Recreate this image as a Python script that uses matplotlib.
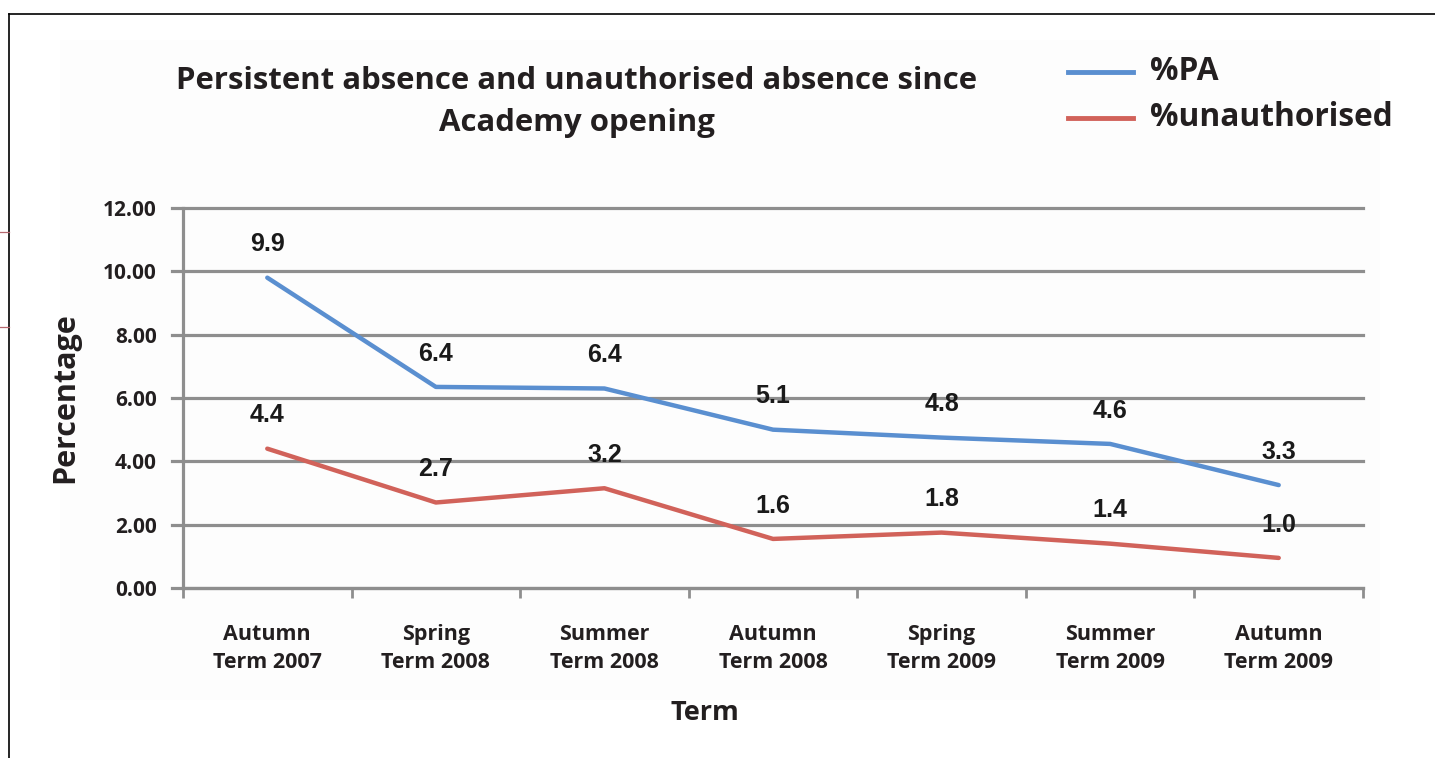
import numpy as np
import matplotlib
matplotlib.use("Agg")
import matplotlib.pyplot as plt
from matplotlib.lines import Line2D

categories = ["Autumn\nTerm 2007", "Spring\nTerm 2008", "Summer\nTerm 2008", "Autumn\nTerm 2008",
              "Spring\nTerm 2009", "Summer\nTerm 2009", "Autumn\nTerm 2009"]
pa = [9.9, 6.4, 6.4, 5.1, 4.8, 4.6, 3.3]
pa_plot = [9.8, 6.35, 6.3, 5.0, 4.75, 4.55, 3.25]
unauth = [4.4, 2.7, 3.2, 1.6, 1.8, 1.4, 1.0]
unauth_plot = [4.4, 2.7, 3.15, 1.55, 1.75, 1.4, 0.95]
yticks = [0, 2, 4, 6, 8, 10, 12]
ytick_labels = ["0.00", "2.00", "4.00", "6.00", "8.00", "10.00", "12.00"]

BLUE = "#5a8fd0"
RED = "#d1625a"
GRID = "#8e8e8e"
TXT = "#231f20"
FONT = "Open Sans"

fig = plt.figure(figsize=(14.35, 7.58), dpi=100)
fig.patch.set_facecolor("white")

# faint background panel
fig.patches.append(plt.Rectangle((60/1435, 1-700/758), 1320/1435, 660/758,
                                 transform=fig.transFigure, facecolor="#fdfdfd",
                                 edgecolor="none", zorder=-5))
# border lines
fig.add_artist(Line2D([9/1435, 9/1435], [0, 1-14/758], transform=fig.transFigure, color="black", lw=1.2))
fig.add_artist(Line2D([9/1435, 1], [1-14/758, 1-14/758], transform=fig.transFigure, color="black", lw=1.2))
for yy in (232, 327):
    fig.add_artist(Line2D([0, 9/1435], [1-yy/758, 1-yy/758], transform=fig.transFigure, color="#b5676e", lw=0.9))

ax = fig.add_axes([183/1435, 1-588/758, 1180/1435, 380/758])
ax.set_facecolor("none")
x = np.arange(len(categories)) + 0.5

ax.set_xlim(0, 7)
ax.set_ylim(0, 12)
for v in yticks:
    ax.axhline(v, color=GRID, lw=2.3, zorder=1, xmin=-0.009, clip_on=False)

ax.plot(x, pa_plot, color=BLUE, lw=3.2, zorder=3, solid_capstyle="round")
ax.plot(x, unauth_plot, color=RED, lw=3.2, zorder=3, solid_capstyle="round")

for xi, yp, lab in zip(x, pa_plot, pa):
    ax.annotate(f"{lab:.1f}", (xi, yp), xytext=(0, 24), textcoords="offset points",
                ha="center", va="center", fontsize=18, fontweight="bold",
                family="Liberation Sans", color="#1a1a1a", zorder=4)
for xi, yp, lab in zip(x, unauth_plot, unauth):
    ax.annotate(f"{lab:.1f}", (xi, yp), xytext=(0, 24), textcoords="offset points",
                ha="center", va="center", fontsize=18, fontweight="bold",
                family="Liberation Sans", color="#1a1a1a", zorder=4)

for s in ["top", "right"]:
    ax.spines[s].set_visible(False)
ax.spines["left"].set_color(GRID)
ax.spines["left"].set_linewidth(2.3)
ax.spines["bottom"].set_color(GRID)
ax.spines["bottom"].set_linewidth(2.3)

ax.set_yticks(yticks)
ax.set_yticklabels(ytick_labels, fontsize=15, fontweight="bold", family=FONT, color=TXT)
ax.tick_params(axis="y", length=0, pad=19)

ax.set_xticks(range(8))
ax.set_xticklabels([""] * 8)
ax.tick_params(axis="x", which="major", length=7, width=2, color=GRID, direction="out")
ax.set_xticks(x, minor=True)
ax.set_xticklabels(categories, minor=True, fontsize=15.5, fontweight="bold", family=FONT,
                   color=TXT, linespacing=1.4)
ax.tick_params(axis="x", which="minor", length=0, pad=26)

ax.set_ylabel("Percentage", fontsize=22, fontweight="bold", family=FONT, color=TXT)
ax.yaxis.set_label_coords(-(183-80)/1180, 0.5)
ax.set_xlabel("Term", fontsize=19.5, fontweight="bold", family=FONT, color=TXT)
ax.xaxis.set_label_coords((705-183)/1180, -(700-588)/380)

fig.text(577/1435, 1-102/758, "Persistent absence and unauthorised absence since\nAcademy opening",
         ha="center", va="center", fontsize=22.4, fontweight="bold", family=FONT, color=TXT,
         linespacing=1.55)

# legend
for yy, c, lab in [(72, BLUE, "%PA"), (118, RED, "%unauthorised")]:
    fig.add_artist(Line2D([1068/1435, 1133/1435], [1-yy/758, 1-yy/758], transform=fig.transFigure,
                          color=c, lw=3.5))
    fig.text(1150/1435, 1-yy/758, lab, ha="left", va="center", fontsize=22.8, fontweight="bold",
             family=FONT, color=TXT)

fig.savefig("out.png", dpi=100, facecolor="white")
